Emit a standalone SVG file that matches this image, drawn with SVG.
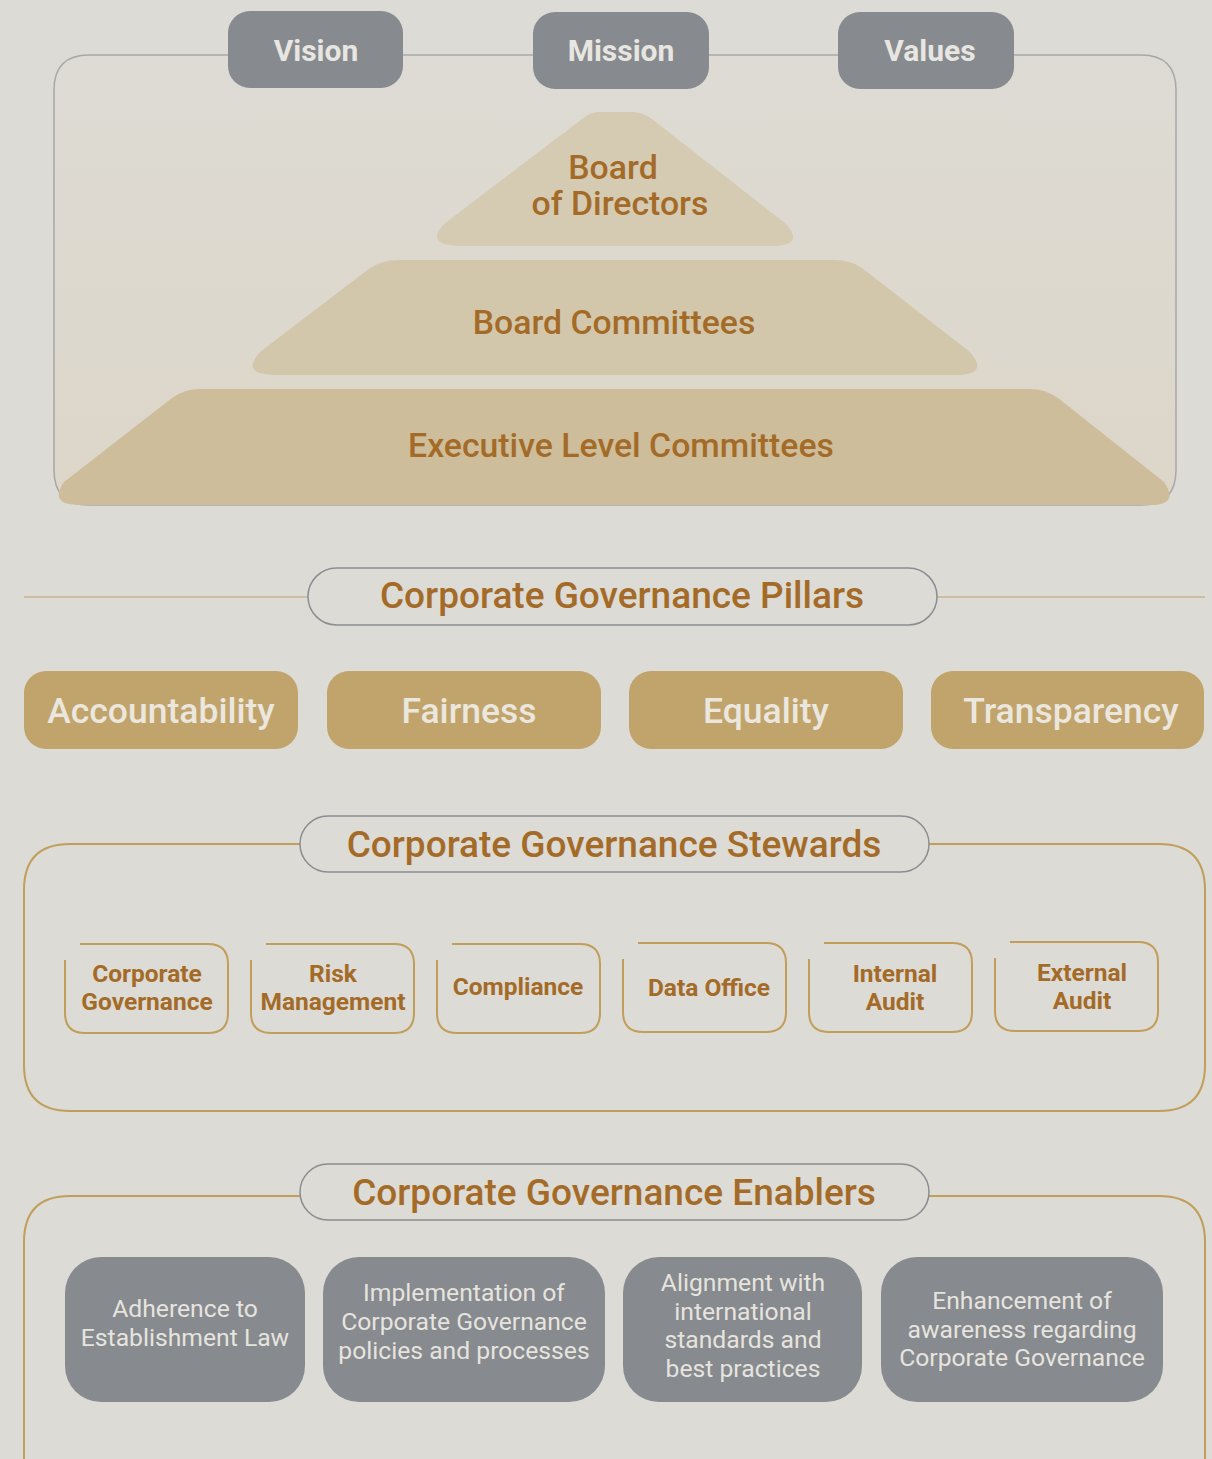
<svg xmlns="http://www.w3.org/2000/svg" width="1212" height="1459" viewBox="0 0 1212 1459">
<defs>
<linearGradient id="frameFill" x1="0" y1="0" x2="0" y2="1">
<stop offset="0" stop-color="#dddbd4"/>
<stop offset="1" stop-color="#ddd6c9"/>
</linearGradient>
<style>
.bg{fill:#dcdbd5}
.gbox{fill:#878a8f}
.gtxt{font-family:Roboto,"Liberation Sans",sans-serif;font-weight:700;font-size:30px;fill:#e8e6e0;text-anchor:middle}
.ptxt{font-family:Roboto,"Liberation Sans",sans-serif;font-weight:500;font-size:33.8px;fill:#a46b28;text-anchor:middle}
.head{fill:none;stroke:#8a8d92;stroke-width:1.5}
.htxt{font-family:Roboto,"Liberation Sans",sans-serif;font-weight:500;font-size:37px;fill:#a46b28;text-anchor:middle}
.pill{fill:#c1a46c}
.pilltxt{font-family:Roboto,"Liberation Sans",sans-serif;font-weight:500;font-size:35.5px;fill:#ebe7df;text-anchor:middle}
.gold{fill:none;stroke:#c29e5a;stroke-width:2}
.sline{fill:none;stroke:#c8b48f;stroke-width:1.5}
.stxt{font-family:Roboto,"Liberation Sans",sans-serif;font-weight:700;font-size:24.5px;fill:#a46b28;text-anchor:middle}
.etxt{font-family:Roboto,"Liberation Sans",sans-serif;font-weight:400;font-size:24.7px;fill:#e6e4de;text-anchor:middle}
</style>
</defs>
<rect class="bg" x="0" y="0" width="1212" height="1459"/>

<g id="connectors">
<path d="M228,55 H89 Q54,55 54,90 V470 Q54,505 89,505 H1141 Q1176,505 1176,470 V90 Q1176,55 1141,55 H1014" fill="url(#frameFill)" stroke="#a8a8a8" stroke-width="1.5"/>
<line x1="403" y1="55" x2="533" y2="55" stroke="#a8a8a8" stroke-width="1.5"/>
<line x1="709" y1="55" x2="838" y2="55" stroke="#a8a8a8" stroke-width="1.5"/>
<line class="sline" x1="24" y1="597" x2="308" y2="597"/>
<line class="sline" x1="937" y1="597" x2="1205" y2="597"/>
<path class="gold" d="M300,844 H70 Q24,844 24,890 V1065 Q24,1111 70,1111 H1159 Q1205,1111 1205,1065 V890 Q1205,844 1159,844 H929"/>
<path class="gold" d="M300,1196 H70 Q24,1196 24,1242 V1500 M1205,1500 V1242 Q1205,1196 1159,1196 H929"/>
</g>

<g id="node-executive">
<path d="M200,389 H1030 Q1045,389 1058,398 L1164,482 Q1180,505 1150,505 H80 Q48,505 64,482 L172,398 Q185,389 200,389 Z" fill="#cdbd9a"/>
<text class="ptxt" x="621" y="457">Executive Level Committees</text>
</g>
<g id="node-board-committees">
<path d="M398,260 H835 Q850,260 862,268 L970,352 Q990,375 955,375 H275 Q240,375 260,352 L370,268 Q383,260 398,260 Z" fill="#d3c7ab"/>
<text class="ptxt" x="614" y="334">Board Committees</text>
</g>
<g id="node-board-directors">
<path d="M600,112 H632 Q642,112 652,119 L786,224 Q806,246 770,246 H462 Q424,246 444,224 L582,119 Q590,112 600,112 Z" fill="#d5cab2"/>
<text class="ptxt" x="613" y="179">Board</text>
<text class="ptxt" x="620" y="215">of Directors</text>
</g>

<g id="node-vision">
<rect class="gbox" x="228" y="11" width="175" height="77" rx="22"/>
<text class="gtxt" x="316" y="61">Vision</text>
</g>
<g id="node-mission">
<rect class="gbox" x="533" y="12" width="176" height="77" rx="22"/>
<text class="gtxt" x="621" y="61">Mission</text>
</g>
<g id="node-values">
<rect class="gbox" x="838" y="12" width="176" height="77" rx="22"/>
<text class="gtxt" x="930" y="61">Values</text>
</g>

<g id="node-pillars-head">
<rect class="head" x="308" y="568" width="629" height="57" rx="28.5"/>
<text class="htxt" x="622" y="608">Corporate Governance Pillars</text>
</g>
<g id="node-accountability">
<rect class="pill" x="24" y="671" width="274" height="78" rx="22"/>
<text class="pilltxt" x="161" y="723">Accountability</text>
</g>
<g id="node-fairness">
<rect class="pill" x="327" y="671" width="274" height="78" rx="22"/>
<text class="pilltxt" x="469" y="723">Fairness</text>
</g>
<g id="node-equality">
<rect class="pill" x="629" y="671" width="274" height="78" rx="22"/>
<text class="pilltxt" x="766" y="723">Equality</text>
</g>
<g id="node-transparency">
<rect class="pill" x="931" y="671" width="273" height="78" rx="22"/>
<text class="pilltxt" x="1071" y="723">Transparency</text>
</g>

<g id="node-stewards-head">
<rect class="head" x="300" y="816" width="629" height="56" rx="28"/>
<text class="htxt" x="614" y="857">Corporate Governance Stewards</text>
</g>
<g id="node-cg">
<path class="gold" d="M80,944 H208 Q228,944 228,964 V1013 Q228,1033 208,1033 H85 Q65,1033 65,1013 V960"/>
<text class="stxt" x="147" y="982">Corporate</text>
<text class="stxt" x="147" y="1010">Governance</text>
</g>
<g id="node-risk">
<path class="gold" d="M266,944 H394 Q414,944 414,964 V1013 Q414,1033 394,1033 H271 Q251,1033 251,1013 V960"/>
<text class="stxt" x="333" y="982">Risk</text>
<text class="stxt" x="333" y="1010">Management</text>
</g>
<g id="node-compliance">
<path class="gold" d="M452,944 H580 Q600,944 600,964 V1013 Q600,1033 580,1033 H457 Q437,1033 437,1013 V960"/>
<text class="stxt" x="518" y="995">Compliance</text>
</g>
<g id="node-data">
<path class="gold" d="M638,943 H766 Q786,943 786,963 V1012 Q786,1032 766,1032 H643 Q623,1032 623,1012 V959"/>
<text class="stxt" x="709" y="996">Data Office</text>
</g>
<g id="node-internal">
<path class="gold" d="M824,943 H952 Q972,943 972,963 V1012 Q972,1032 952,1032 H829 Q809,1032 809,1012 V959"/>
<text class="stxt" x="895" y="982">Internal</text>
<text class="stxt" x="895" y="1010">Audit</text>
</g>
<g id="node-external">
<path class="gold" d="M1010,942 H1138 Q1158,942 1158,962 V1011 Q1158,1031 1138,1031 H1015 Q995,1031 995,1011 V958"/>
<text class="stxt" x="1082" y="981">External</text>
<text class="stxt" x="1082" y="1009">Audit</text>
</g>

<g id="node-enablers-head">
<rect class="head" x="300" y="1164" width="629" height="56" rx="28"/>
<text class="htxt" x="614" y="1205">Corporate Governance Enablers</text>
</g>
<g id="node-adherence">
<rect class="gbox" x="65" y="1257" width="240" height="145" rx="36"/>
<text class="etxt" x="185" y="1317">Adherence to</text>
<text class="etxt" x="185" y="1346">Establishment Law</text>
</g>
<g id="node-implementation">
<rect class="gbox" x="323" y="1257" width="282" height="145" rx="36"/>
<text class="etxt" x="464" y="1301">Implementation of</text>
<text class="etxt" x="464" y="1330">Corporate Governance</text>
<text class="etxt" x="464" y="1359">policies and processes</text>
</g>
<g id="node-alignment">
<rect class="gbox" x="623" y="1257" width="239" height="145" rx="36"/>
<text class="etxt" x="743" y="1291">Alignment with</text>
<text class="etxt" x="743" y="1320">international</text>
<text class="etxt" x="743" y="1348">standards and</text>
<text class="etxt" x="743" y="1377">best practices</text>
</g>
<g id="node-enhancement">
<rect class="gbox" x="881" y="1257" width="282" height="145" rx="36"/>
<text class="etxt" x="1022" y="1309">Enhancement of</text>
<text class="etxt" x="1022" y="1338">awareness regarding</text>
<text class="etxt" x="1022" y="1366">Corporate Governance</text>
</g>
</svg>
